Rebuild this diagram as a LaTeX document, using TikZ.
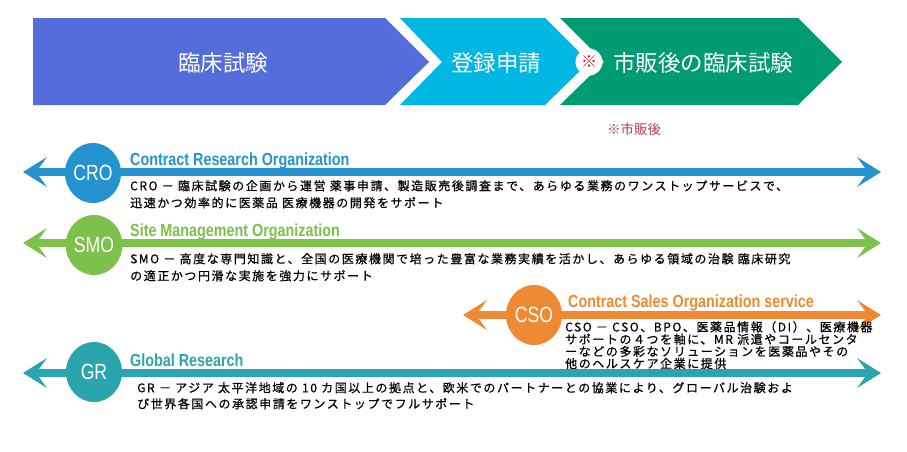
\documentclass[tikz,border=0pt]{standalone}
\usepackage{fontspec}
\usetikzlibrary{arrows.meta,shapes.geometric}
\newfontfamily\jpfont{Noto Sans CJK JP}
\newfontfamily\jpdesc{Noto Sans CJK JP}[LetterSpace=13, FakeBold=0.6]
\newfontfamily\condfont{Liberation Sans}[FakeStretch=0.8]
\newfontfamily\condbold{Liberation Sans Bold}[FakeStretch=0.82]
\definecolor{trial}{HTML}{536DDA}
\definecolor{regist}{HTML}{00B7E3}
\definecolor{postmkt}{HTML}{009B72}
\definecolor{cro}{HTML}{2493CF}
\definecolor{smo}{HTML}{7DC04B}
\definecolor{cso}{HTML}{EE8A33}
\definecolor{gr}{HTML}{2AA5AD}
\definecolor{note}{HTML}{B5404E}
\definecolor{mark}{HTML}{E8141E}

\begin{document}
\begin{tikzpicture}[x=1pt, y=-1pt,
  chevtxt/.style={text=white, font=\jpfont\fontsize{22.5}{24}\selectfont, inner sep=0pt},
  bar/.style={line width=8pt,
    {Stealth[length=24pt, width=30pt, inset=11pt, line width=0pt]}-{Stealth[length=24pt, width=30pt, inset=11pt, line width=0pt]}},
  badge/.style={ellipse, minimum width=56pt, minimum height=60pt, inner sep=0pt, text=white,
    font=\condfont\fontsize{22}{22}\selectfont},
  ttl/.style={anchor=base west, inner sep=0pt, font=\condbold\fontsize{17.5}{17.5}\selectfont},
  desc/.style={anchor=north west, inner sep=0pt, align=left, text=black},
]
\useasboundingbox[fill=white] (0,0) rectangle (907,451);

% process chevrons
\fill[trial] (33,18) -- (385,18) -- (429,62) -- (385,105) -- (33,105) -- cycle;
\fill[regist] (400,18) -- (545,18) -- (589,62) -- (545,105) -- (400,105) -- (442,62) -- cycle;
\fill[postmkt] (560,18) -- (798,18) -- (842,62) -- (798,105) -- (560,105) -- (604,62) -- cycle;

\node[chevtxt] (trialtxt) at (223,63) {臨床試験};
\node[chevtxt] (registtxt) at (496,63) {登録申請};
\node[circle, fill=white, minimum size=27pt, inner sep=0pt, text=mark,
  font=\jpfont\fontsize{16}{16}\selectfont] (pmmark) at (589,62) {※};
\node[chevtxt] (pmtxt) at (703,63) {市販後の臨床試験};
\node[text=note, inner sep=0pt, font=\jpfont\fontsize{13.5}{14}\selectfont] (pmnote) at (634,129) {※市販後};

% CRO
\coordinate (crol) at (23,172);
\coordinate (cror) at (881,172);
\draw[bar, cro] (crol) -- (cror);
\node[badge, fill=cro] (crobadge) at (93,173) {CRO};
\node[ttl, text=cro] (crottl) at (130,165) {Contract Research Organization};
\node[desc, font=\jpdesc\fontsize{12}{17}\selectfont] (crodesc) at (130,180)
  {CRO － 臨床試験の企画から運営 薬事申請、製造販売後調査まで、あらゆる業務のワンストップサービスで、\\
   迅速かつ効率的に医薬品 医療機器の開発をサポート};

% SMO
\coordinate (smol) at (23,243);
\coordinate (smor) at (881,243);
\draw[bar, smo] (smol) -- (smor);
\node[badge, fill=smo] (smobadge) at (94,245) {SMO};
\node[ttl, text=smo] (smottl) at (130,236) {Site Management Organization};
\node[desc, font=\jpdesc\fontsize{12}{17}\selectfont] (smodesc) at (130,253)
  {SMO － 高度な専門知識と、全国の医療機関で培った豊富な業務実績を活かし、あらゆる領域の治験 臨床研究\\
   の適正かつ円滑な実施を強力にサポート};

% CSO
\coordinate (csol) at (463,315);
\coordinate (csor) at (881,315);
\draw[bar, cso] (csol) -- (csor);
\node[badge, fill=cso] (csobadge) at (534,315) {CSO};
\node[ttl, text=cso] (csottl) at (568,307) {Contract Sales Organization service};

% GR
\coordinate (grl) at (23,373);
\coordinate (grr) at (881,373);
\draw[bar, gr] (grl) -- (grr);
\node[badge, fill=gr] (grbadge) at (94,372) {GR};
\node[ttl, text=gr] (grttl) at (130,366) {Global Research};
\node[desc, font=\jpdesc\fontsize{12}{16}\selectfont] (grdesc) at (137,382)
  {GR － アジア 太平洋地域の 10 カ国以上の拠点と、欧米でのパートナーとの協業により、グローバル治験およ\\
   び世界各国への承認申請をワンストップでフルサポート};

\node[desc, font=\jpdesc\fontsize{12}{11}\selectfont] (csodesc) at (565,321)
  {CSO － CSO、BPO、医薬品情報（DI）、医療機器\\
   サポートの４つを軸に、MR 派遣やコールセンタ\\
   ーなどの多彩なソリューションを医薬品やその\\
   他のヘルスケア企業に提供};

\end{tikzpicture}
\end{document}
